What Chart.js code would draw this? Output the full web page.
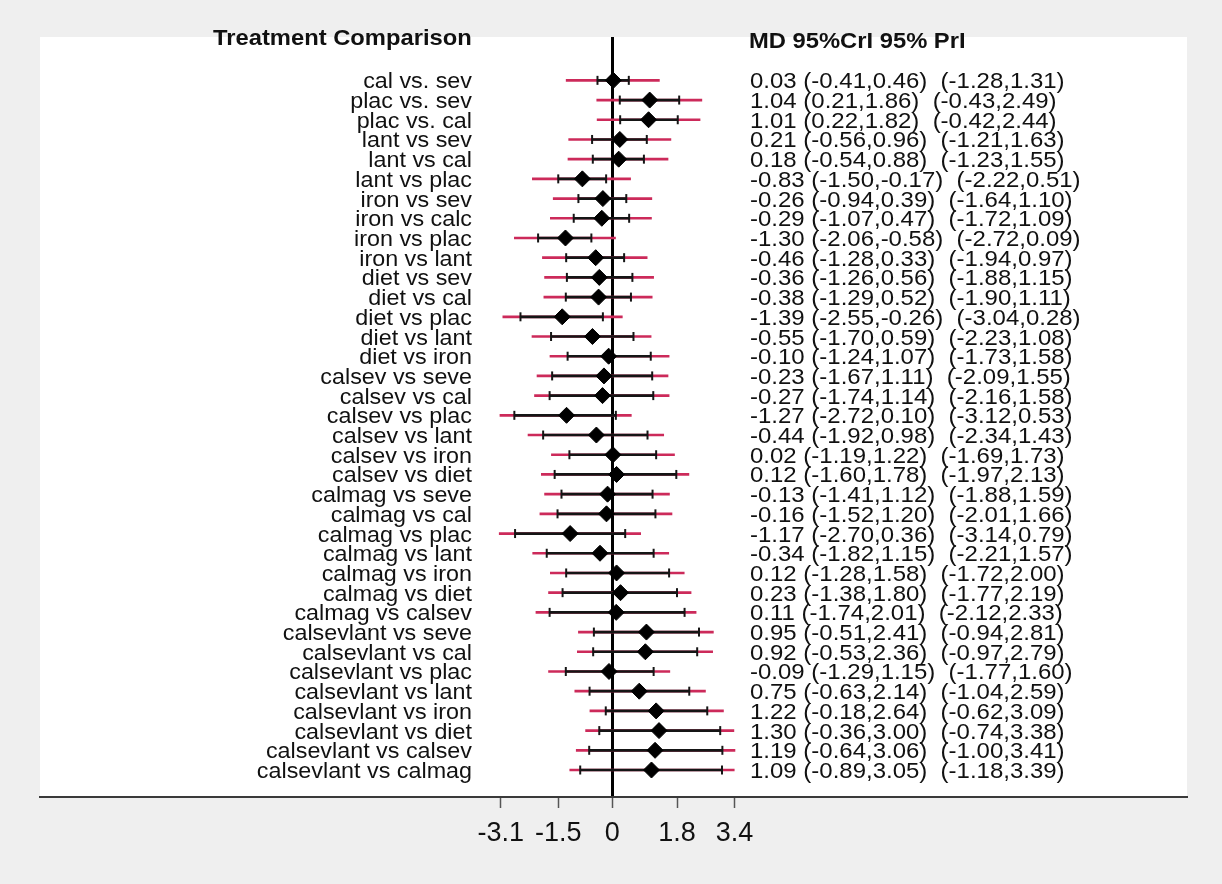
<!DOCTYPE html>
<html>
<head>
<meta charset="utf-8">
<script src="https://cdn.jsdelivr.net/npm/chart.js@4"></script>
<style>
  body { margin: 0; background: #efefef; }
  canvas { display: block; }
</style>
</head>
<body>
<canvas id="forest" width="1222" height="884"></canvas>
<script>
// --- DATA ---
const comparisons = [
  "cal vs. sev", "plac vs. sev", "plac vs. cal", "lant vs sev", "lant vs cal", "lant vs plac",
  "iron vs sev", "iron vs calc", "iron vs plac", "iron vs lant",
  "diet vs sev", "diet vs cal", "diet vs plac", "diet vs lant", "diet vs iron",
  "calsev vs seve", "calsev vs cal", "calsev vs plac", "calsev vs lant", "calsev vs iron", "calsev vs diet",
  "calmag vs seve", "calmag vs cal", "calmag vs plac", "calmag vs lant", "calmag vs iron", "calmag vs diet", "calmag vs calsev",
  "calsevlant vs seve", "calsevlant vs cal", "calsevlant vs plac", "calsevlant vs lant", "calsevlant vs iron",
  "calsevlant vs diet", "calsevlant vs calsev", "calsevlant vs calmag"
];
const md    = [0.03, 1.04, 1.01, 0.21, 0.18, -0.83, -0.26, -0.29, -1.30, -0.46, -0.36, -0.38, -1.39, -0.55, -0.10,
               -0.23, -0.27, -1.27, -0.44, 0.02, 0.12, -0.13, -0.16, -1.17, -0.34, 0.12, 0.23, 0.11,
               0.95, 0.92, -0.09, 0.75, 1.22, 1.30, 1.19, 1.09];
const crLo  = [-0.41, 0.21, 0.22, -0.56, -0.54, -1.50, -0.94, -1.07, -2.06, -1.28, -1.26, -1.29, -2.55, -1.70, -1.24,
               -1.67, -1.74, -2.72, -1.92, -1.19, -1.60, -1.41, -1.52, -2.70, -1.82, -1.28, -1.38, -1.74,
               -0.51, -0.53, -1.29, -0.63, -0.18, -0.36, -0.64, -0.89];
const crHi  = [0.46, 1.86, 1.82, 0.96, 0.88, -0.17, 0.39, 0.47, -0.58, 0.33, 0.56, 0.52, -0.26, 0.59, 1.07,
               1.11, 1.14, 0.10, 0.98, 1.22, 1.78, 1.12, 1.20, 0.36, 1.15, 1.58, 1.80, 2.01,
               2.41, 2.36, 1.15, 2.14, 2.64, 3.00, 3.06, 3.05];
const prLo  = [-1.28, -0.43, -0.42, -1.21, -1.23, -2.22, -1.64, -1.72, -2.72, -1.94, -1.88, -1.90, -3.04, -2.23, -1.73,
               -2.09, -2.16, -3.12, -2.34, -1.69, -1.97, -1.88, -2.01, -3.14, -2.21, -1.72, -1.77, -2.12,
               -0.94, -0.97, -1.77, -1.04, -0.62, -0.74, -1.00, -1.18];
const prHi  = [1.31, 2.49, 2.44, 1.63, 1.55, 0.51, 1.10, 1.09, 0.09, 0.97, 1.15, 1.11, 0.28, 1.08, 1.58,
               1.55, 1.58, 0.53, 1.43, 1.73, 2.13, 1.59, 1.66, 0.79, 1.57, 2.00, 2.19, 2.33,
               2.81, 2.79, 1.60, 2.59, 3.09, 3.38, 3.41, 3.39];
const xTicks = [-3.1, -1.5, 0, 1.8, 3.4];

const leftTitle = "Treatment Comparison";
const rightTitle = "MD 95%CrI 95% PrI";

const f2 = v => v.toFixed(2);
const rows = comparisons.map((c, i) => i);

// --- PLUGINS ---
const bgPlugin = {
  id: "bg",
  beforeDraw(chart) {
    const { ctx, chartArea: a } = chart;
    ctx.save();
    ctx.fillStyle = "#efefef";
    ctx.fillRect(0, 0, chart.width, chart.height);
    ctx.fillStyle = "#ffffff";
    ctx.fillRect(a.left, a.top, a.right - a.left, a.bottom - a.top);
    ctx.restore();
  }
};

function stretchText(ctx, text, x, y, align, sx) {
  ctx.save();
  ctx.translate(x, y);
  ctx.scale(sx, 1);
  ctx.textAlign = align;
  ctx.fillText(text, 0, 0);
  ctx.restore();
}

const textPlugin = {
  id: "forestText",
  afterDraw(chart) {
    const { ctx } = chart;
    const yS = chart.scales.y;
    ctx.save();
    ctx.fillStyle = "#111";
    ctx.textBaseline = "alphabetic";

    ctx.font = "bold 22px 'Liberation Sans', Arial, sans-serif";
    stretchText(ctx, leftTitle, 213, 45, "left", 1.08);
    stretchText(ctx, rightTitle, 749, 48, "left", 1.08);

    ctx.font = "22px 'Liberation Sans', Arial, sans-serif";
    rows.forEach(i => {
      const y = yS.getPixelForValue(i) + 8;
      stretchText(ctx, comparisons[i], 472, y, "right", 1.06);
      const stat = `${f2(md[i])} (${f2(crLo[i])},${f2(crHi[i])})  (${f2(prLo[i])},${f2(prHi[i])})`;
      stretchText(ctx, stat, 750, y, "left", 1.09);
    });
    ctx.restore();
  }
};

// --- CHART ---
const RED = "#cc2a5a";
const BLACK = "#151515";

new Chart(document.getElementById("forest"), {
  type: "bar",
  data: {
    datasets: [
      {
        label: "95% PrI",
        data: rows.map(i => ({ x: [prLo[i], prHi[i]], y: i })),
        backgroundColor: RED,
        barThickness: 2,
        grouped: false,
        order: 5
      },
      {
        label: "95% CrI",
        data: rows.map(i => ({ x: [crLo[i], crHi[i]], y: i })),
        backgroundColor: BLACK,
        barThickness: 2,
        grouped: false,
        order: 4
      },
      {
        type: "scatter",
        label: "CrI ends",
        data: rows.flatMap(i => [{ x: crLo[i], y: i }, { x: crHi[i], y: i }]),
        pointStyle: "line",
        pointRotation: 90,
        pointRadius: 4.5,
        borderColor: BLACK,
        borderWidth: 2,
        order: 2
      },
      {
        type: "scatter",
        label: "MD",
        data: rows.map(i => ({ x: md[i], y: i })),
        pointStyle: "rectRot",
        pointRadius: 8,
        backgroundColor: "#000",
        borderColor: "#000",
        borderWidth: 1,
        order: 1
      }
    ]
  },
  options: {
    responsive: false,
    animation: false,
    indexAxis: "y",
    layout: { padding: { left: 40, right: 35, top: 37, bottom: 0 } },
    plugins: { legend: { display: false }, tooltip: { enabled: false } },
    scales: {
      x: {
        type: "linear",
        min: -15.9,
        max: 15.97,
        afterBuildTicks: s => { s.ticks = xTicks.map(v => ({ value: v })); },
        afterFit: s => { s.height = 87; },
        border: { display: true, color: "#3a3a3a", width: 2 },
        grid: {
          drawOnChartArea: true,
          color: c => (c.tick && c.tick.value === 0 ? "#000" : "rgba(0,0,0,0)"),
          lineWidth: c => (c.tick && c.tick.value === 0 ? 3 : 1),
          tickColor: "#555",
          tickLength: 11,
          tickWidth: 1.5
        },
        ticks: {
          autoSkip: false,
          maxRotation: 0,
          padding: 9,
          color: "#111",
          font: { family: "'Liberation Sans', Arial, sans-serif", size: 27 },
          callback: v => String(v)
        }
      },
      y: {
        type: "linear",
        display: false,
        offset: false,
        reverse: true,
        min: -2.2,
        max: 36.37,
        grid: { offset: false }
      }
    }
  },
  plugins: [bgPlugin, textPlugin]
});
</script>
</body>
</html>
